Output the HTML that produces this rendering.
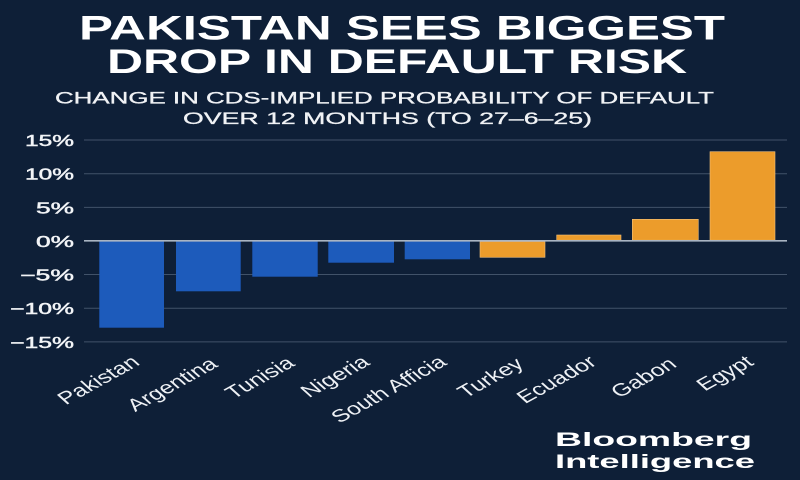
<!DOCTYPE html>
<html>
<head>
<meta charset="utf-8">
<style>
  html,body{margin:0;padding:0;background:#0e1f37;}
  svg{display:block;}
  text{font-family:"Liberation Sans", sans-serif;}
</style>
</head>
<body>
<svg width="800" height="480" viewBox="0 0 800 480" xmlns="http://www.w3.org/2000/svg">
  <rect x="0" y="0" width="800" height="480" fill="#0e1f37"/>

  <!-- Title -->
  <text x="79" y="39.5" font-size="34" font-weight="bold" fill="#ffffff" textLength="646" lengthAdjust="spacingAndGlyphs">PAKISTAN SEES BIGGEST</text>
  <text x="107" y="73" font-size="34" font-weight="bold" fill="#ffffff" textLength="580" lengthAdjust="spacingAndGlyphs">DROP IN DEFAULT RISK</text>

  <!-- Subtitle -->
  <g fill="#f0f2f5" stroke="#f0f2f5" stroke-width="0.3">
  <text x="55" y="103.3" font-size="16.3" textLength="659" lengthAdjust="spacingAndGlyphs">CHANGE IN CDS-IMPLIED PROBABILITY OF DEFAULT</text>
  <text x="183" y="124" font-size="16.3" textLength="409" lengthAdjust="spacingAndGlyphs">OVER 12 MONTHS (TO 27–6–25)</text>
  </g>

  <!-- Gridlines -->
  <g stroke="#415269" stroke-width="1">
    <line x1="84" y1="140" x2="787" y2="140"/>
    <line x1="84" y1="173.7" x2="787" y2="173.7"/>
    <line x1="84" y1="207.4" x2="787" y2="207.4"/>
    <line x1="84" y1="274.5" x2="787" y2="274.5"/>
    <line x1="84" y1="308.2" x2="787" y2="308.2"/>
    <line x1="84" y1="341.9" x2="787" y2="341.9"/>
  </g>

  <!-- Tick labels -->
  <g font-size="15.5" fill="#f2f4f7" stroke="#f2f4f7" stroke-width="0.45">
    <text x="25" y="146" textLength="49" lengthAdjust="spacingAndGlyphs">15%</text>
    <text x="25" y="179.7" textLength="49" lengthAdjust="spacingAndGlyphs">10%</text>
    <text x="36" y="213.4" textLength="38" lengthAdjust="spacingAndGlyphs">5%</text>
    <text x="36" y="246.8" textLength="38" lengthAdjust="spacingAndGlyphs">0%</text>
    <text x="20" y="280.5" textLength="54" lengthAdjust="spacingAndGlyphs">−5%</text>
    <text x="10" y="314.2" textLength="64" lengthAdjust="spacingAndGlyphs">−10%</text>
    <text x="10" y="347.9" textLength="64" lengthAdjust="spacingAndGlyphs">−15%</text>
  </g>

  <!-- Bars -->
  <g fill="#1d5bbb">
    <rect x="99.3" y="241.5" width="64.7" height="86.2"/>
    <rect x="176" y="241.5" width="64.7" height="49.8"/>
    <rect x="252.3" y="241.5" width="65.4" height="35.2"/>
    <rect x="328.3" y="241.5" width="65.7" height="21.2"/>
    <rect x="404.7" y="241.5" width="65.3" height="17.8"/>
  </g>
  <g fill="#ec9c2b" stroke="#f3c07a" stroke-width="0.6">
    <rect x="480" y="241.5" width="65" height="15.8"/>
    <rect x="556.7" y="235" width="64.3" height="5.2"/>
    <rect x="632.3" y="219.3" width="66" height="20.9"/>
    <rect x="710" y="151.7" width="65" height="88.5"/>
  </g>

  <!-- Zero line -->
  <line x1="84" y1="240.8" x2="787" y2="240.8" stroke="#a9b4c2" stroke-width="1.6"/>

  <!-- X labels -->
  <g font-size="17.5" fill="#eef1f5" text-anchor="end">
    <text transform="translate(141,364) scale(1.42,1) rotate(-38)">Pakistan</text>
    <text transform="translate(219,366) scale(1.42,1) rotate(-38)">Argentina</text>
    <text transform="translate(296,365) scale(1.42,1) rotate(-38)">Tunisia</text>
    <text transform="translate(371,364) scale(1.42,1) rotate(-38)">Nigeria</text>
    <text transform="translate(448,364) scale(1.42,1) rotate(-38)">South Afficia</text>
    <text transform="translate(525,366) scale(1.42,1) rotate(-38)">Turkey</text>
    <text transform="translate(598,364) scale(1.42,1) rotate(-38)">Ecuador</text>
    <text transform="translate(678,366) scale(1.42,1) rotate(-38)">Gabon</text>
    <text transform="translate(755,364) scale(1.42,1) rotate(-38)">Egypt</text>
  </g>

  <!-- Branding -->
  <text x="555" y="446" font-size="19.5" font-weight="bold" fill="#ffffff" textLength="197" lengthAdjust="spacingAndGlyphs">Bloomberg</text>
  <text x="555" y="468" font-size="19.5" font-weight="bold" fill="#ffffff" textLength="200" lengthAdjust="spacingAndGlyphs">Intelligence</text>
</svg>
</body>
</html>
